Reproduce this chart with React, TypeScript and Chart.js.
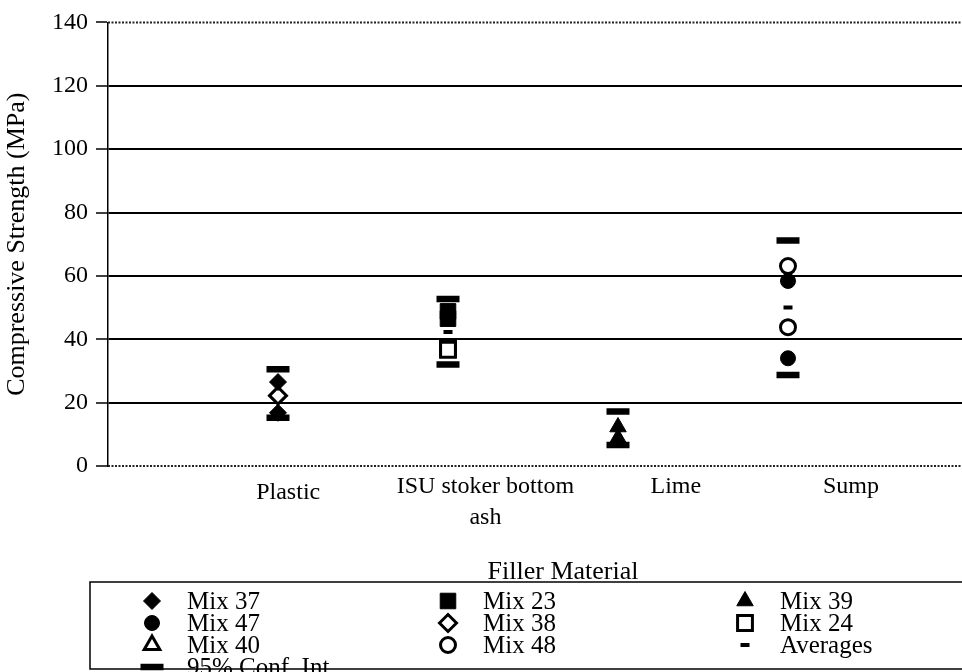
import { useEffect, useRef } from 'react';
import { Chart, registerables } from 'chart.js';
import { drawPoint } from 'chart.js/helpers';

Chart.register(...registerables);

const SERIF = '"Liberation Serif", "Times New Roman", serif';

// Filler materials along the x axis (placed at x = 1..4)
const categories: (string | string[])[] = ['Plastic', ['ISU stoker bottom', 'ash'], 'Lime', 'Sump'];
// Where each category caption sits on the x scale
const labelSpots = [1.06, 2.22, 3.34, 4.37];
const yTicks = [0, 20, 40, 60, 80, 100, 120, 140];

// Specimen compressive strengths (MPa), one inner list per filler material
const mix37 = [[26.5, 16.8], [], [], []];
const mix23 = [[], [48.8, 46.5], [], []];
const mix39 = [[], [], [12.3, 8.8], []];
const mix47 = [[], [], [], [58.4, 34.0]];
const mix38 = [[22.2], [], [], []];
const mix24 = [[], [37.4, 36.7], [], []];
const mix40: number[][] = [[], [], [], []];
const mix48 = [[], [], [], [63.1, 43.8]];
const averages = [22.2, 42.3, 11.5, 50.0];
const confUpper = [30.5, 52.7, 17.2, 71.2];
const confLower = [15.2, 32.0, 6.6, 28.7];

const toPoints = (rows: number[][]) =>
  rows.flatMap((vals, i) => vals.map((y) => ({ x: i + 1, y })));

const filled = { pointBackgroundColor: '#000', pointBorderColor: '#000', pointBorderWidth: 1 };
const hollow = { pointBackgroundColor: '#fff', pointBorderColor: '#000', pointBorderWidth: 3 };

const makeDatasets = () => [
  { label: 'Mix 37', data: toPoints(mix37), pointStyle: 'rectRot', pointRadius: 8.5, order: 1, ...filled },
  { label: 'Mix 23', data: toPoints(mix23), pointStyle: 'rect', pointRadius: 11, order: 1, ...filled },
  { label: 'Mix 39', data: toPoints(mix39), pointStyle: 'triangle', pointRadius: 9.5, order: 1, ...filled },
  { label: 'Mix 47', data: toPoints(mix47), pointStyle: 'circle', pointRadius: 7.5, order: 1, ...filled },
  { label: 'Mix 38', data: toPoints(mix38), pointStyle: 'rectRot', pointRadius: 8.5, order: 1, ...hollow },
  { label: 'Mix 24', data: toPoints(mix24), pointStyle: 'rect', pointRadius: 10.5, order: 1, ...hollow },
  { label: 'Mix 40', data: toPoints(mix40), pointStyle: 'triangle', pointRadius: 9, order: 1, ...hollow },
  { label: 'Mix 48', data: toPoints(mix48), pointStyle: 'circle', pointRadius: 7.5, order: 1, ...hollow },
  {
    label: 'Averages',
    data: averages.map((y, i) => ({ x: i + 1, y })),
    pointStyle: 'line', pointRadius: 4.5, order: 2,
    pointBackgroundColor: '#000', pointBorderColor: '#000', pointBorderWidth: 4,
  },
  {
    label: '95% Conf. Int.',
    data: toPoints(confUpper.map((u, i) => [u, confLower[i]])),
    pointStyle: 'line', pointRadius: 11.5, order: 0,
    pointBackgroundColor: '#000', pointBorderColor: '#000', pointBorderWidth: 6.5,
  },
];

// Dotted frame along the top and bottom of the plot area
const plotFrame = {
  id: 'plotFrame',
  beforeDatasetsDraw(chart: any) {
    const { ctx, chartArea } = chart;
    ctx.save();
    ctx.strokeStyle = '#222';
    ctx.lineWidth = 2;
    ctx.setLineDash([2, 1.5]);
    [chartArea.top, chartArea.bottom].forEach((y: number) => {
      ctx.beginPath();
      ctx.moveTo(chartArea.left, y);
      ctx.lineTo(chartArea.right, y);
      ctx.stroke();
    });
    ctx.restore();
  },
};

// Three-column boxed legend below the axis title
const gridLegend = {
  id: 'gridLegend',
  afterDraw(chart: any) {
    const { ctx } = chart;
    const datasets = chart.data.datasets;
    const boxLeft = 90;
    const boxTop = 582;
    const boxBottom = 669;
    const colX = [152, 448, 745];
    const rowY0 = 601;
    const rowGap = 22;
    ctx.save();
    ctx.font = `25px ${SERIF}`;
    ctx.textBaseline = 'middle';
    ctx.textAlign = 'left';
    datasets.forEach((ds: any, i: number) => {
      const x = colX[i % 3];
      const y = rowY0 + Math.floor(i / 3) * rowGap;
      ctx.fillStyle = ds.pointBackgroundColor;
      ctx.strokeStyle = ds.pointBorderColor;
      ctx.lineWidth = ds.pointBorderWidth;
      ctx.setLineDash([]);
      drawPoint(ctx, { pointStyle: ds.pointStyle, radius: ds.pointRadius, rotation: 0, borderWidth: ds.pointBorderWidth }, x, y);
      ctx.fillStyle = '#000';
      ctx.fillText(ds.label, x + 35, y + 1);
    });
    ctx.strokeStyle = '#000';
    ctx.lineWidth = 1.5;
    ctx.beginPath();
    ctx.moveTo(chart.width + 5, boxTop);
    ctx.lineTo(boxLeft, boxTop);
    ctx.lineTo(boxLeft, boxBottom);
    ctx.lineTo(chart.width + 5, boxBottom);
    ctx.stroke();
    ctx.restore();
  },
};

export default function App() {
  const canvasRef = useRef<HTMLCanvasElement | null>(null);

  useEffect(() => {
    if (!canvasRef.current) return;
    Chart.defaults.font.family = SERIF;
    Chart.defaults.color = '#000';
    const chart = new Chart(canvasRef.current, {
      type: 'scatter',
      data: { datasets: makeDatasets() as any },
      options: {
        animation: false,
        responsive: false,
        events: [],
        layout: { padding: { top: 18, right: 22, bottom: 0, left: 0 } },
        plugins: { legend: { display: false }, tooltip: { enabled: false } },
        scales: {
          x: {
            type: 'linear',
            min: 0,
            max: 5.353,
            afterBuildTicks: (scale: any) => {
              scale.ticks = labelSpots.map((v) => ({ value: v }));
            },
            afterFit: (scale: any) => {
              scale.height = 206;
            },
            grid: { display: false, drawTicks: false },
            border: { display: false },
            ticks: {
              autoSkip: false,
              maxRotation: 0,
              minRotation: 0,
              padding: 5,
              color: '#000',
              font: (c: any) => ({ family: SERIF, size: 24, lineHeight: c.index === 0 ? 1.8 : 1.3 }),
              callback: (_v: any, i: number) => categories[i],
            },
            title: {
              display: true,
              text: 'Filler Material',
              color: '#000',
              font: { family: SERIF, size: 26, lineHeight: 1.2 },
              padding: { top: 0, bottom: 84.5 },
            },
          },
          y: {
            type: 'linear',
            min: 0,
            max: 140,
            afterBuildTicks: (scale: any) => {
              scale.ticks = yTicks.map((v) => ({ value: v }));
            },
            afterFit: (scale: any) => {
              scale.width = 108;
            },
            grid: {
              color: (c: any) =>
                c.tick && (c.tick.value === 0 || c.tick.value === 140) ? 'rgba(0,0,0,0)' : '#000',
              lineWidth: 2,
              tickColor: '#000',
              tickLength: 12,
              tickWidth: 1.5,
            },
            border: { display: true, color: '#000', width: 1.5 },
            ticks: { color: '#000', font: { family: SERIF, size: 24 }, padding: 8 },
            title: {
              display: true,
              text: 'Compressive Strength (MPa)',
              color: '#000',
              font: { family: SERIF, size: 26, lineHeight: 1.2 },
              padding: { top: 1.4, bottom: 0 },
            },
          },
        },
      },
      plugins: [plotFrame, gridLegend],
    } as any);
    return () => chart.destroy();
  }, []);

  return (
    <div
      style={{
        position: 'fixed',
        left: 0,
        top: 0,
        width: 962,
        height: 672,
        overflow: 'hidden',
        background: '#fff',
      }}
    >
      <canvas ref={canvasRef} width={1040} height={672} style={{ display: 'block', width: 1040, height: 672 }} />
    </div>
  );
}
